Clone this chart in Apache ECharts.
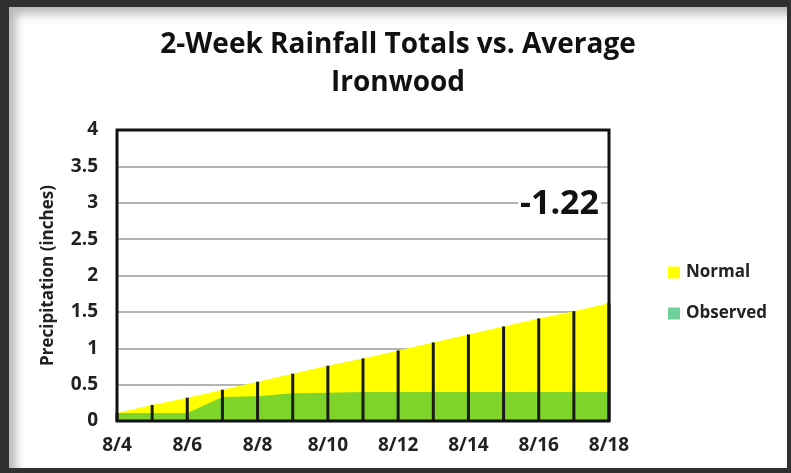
<!DOCTYPE html>
<html>
<head>
<meta charset="utf-8">
<script src="https://cdn.jsdelivr.net/npm/echarts@6/dist/echarts.min.js"></script>
<style>
  html, body { margin: 0; padding: 0; }
  body { width: 791px; height: 473px; background: #303030; position: relative; overflow: hidden; }
  #chart {
    position: absolute; left: 9px; top: 7px; width: 778px; height: 461px;
    background: #fff;
    box-shadow: inset 7px 7px 10px rgba(0,0,0,0.28);
  }
</style>
</head>
<body>
<div id="chart"></div>
<script>
  // days of the 2-week window
  const days = ['8/4','8/5','8/6','8/7','8/8','8/9','8/10','8/11','8/12','8/13','8/14','8/15','8/16','8/17','8/18'];
  // accumulated rainfall, inches
  const normal = [0.11, 0.22, 0.32, 0.43, 0.54, 0.65, 0.76, 0.86, 0.97, 1.08, 1.19, 1.30, 1.41, 1.51, 1.62];
  const observed = [0.11, 0.11, 0.11, 0.33, 0.34, 0.38, 0.39, 0.40, 0.40, 0.40, 0.40, 0.40, 0.40, 0.40, 0.40];
  const departure = '-1.22';

  const font = '"Open Sans", sans-serif';
  let myChart = echarts.init(document.getElementById('chart'));

  let option = {
    animation: false,
    textStyle: { fontFamily: font },
    title: {
      text: '2-Week Rainfall Totals vs. Average\nIronwood',
      left: 'center',
      top: 14,
      textStyle: { fontSize: 28, fontWeight: 'bold', color: '#111', lineHeight: 38, fontFamily: font }
    },
    grid: {  // plot box
      left: 108, right: 178, top: 123, bottom: 47,
      show: true, borderColor: '#111', borderWidth: 3, z: 5,
      backgroundColor: 'transparent'
    },
    legend: {
      orient: 'vertical',
      left: 659, top: 257,
      padding: 0,
      itemWidth: 12, itemHeight: 12, itemGap: 24,
      icon: 'rect',
      textStyle: { fontSize: 17, fontWeight: 'bold', color: '#222', fontFamily: font, padding: [0, 0, 0, 1] },
      data: [
        { name: 'Normal' },
        { name: 'Observed', itemStyle: { color: '#6fd19b' } }
      ]
    },
    xAxis: {
      type: 'category',
      data: days,
      boundaryGap: false,
      axisLine: { show: false },
      axisTick: { show: false },
      axisLabel: { interval: 1, margin: 15, fontSize: 19, fontWeight: 'bold', color: '#222', fontFamily: font }
    },
    yAxis: {
      type: 'value',
      min: 0, max: 4, interval: 0.5,
      name: 'Precipitation (inches)',
      nameLocation: 'middle',
      nameGap: 60,
      nameTextStyle: { fontSize: 17, fontWeight: 'bold', color: '#222', fontFamily: font },
      axisLine: { show: false },
      axisTick: { show: false },
      axisLabel: { margin: 19, fontSize: 19, fontWeight: 'bold', color: '#222', fontFamily: font },
      splitLine: { lineStyle: { color: '#b4b4b4', width: 2 } }
    },
    graphic: [{
      type: 'text',
      right: 186, top: 180,
      z: 10,
      style: {
        text: departure, fontSize: 34, fontWeight: 'bold', fill: '#111', fontFamily: font,
        backgroundColor: '#fff', padding: [0, 2, 0, 2]
      }
    }],
    series: [
      {
        name: 'Normal',
        type: 'line',
        data: normal,
        symbol: 'none',
        color: '#ffff00',
        lineStyle: { width: 0 },
        areaStyle: { color: '#ffff00', opacity: 1 },
        z: 1
      },
      {
        name: 'Observed',
        type: 'line',
        data: observed,
        symbol: 'none',
        color: '#7fd42a',
        lineStyle: { width: 0 },
        areaStyle: { color: '#7fd42a', opacity: 1 },
        z: 2
      },
      {
        name: 'drop',
        type: 'bar',
        data: normal,
        barWidth: 3,
        itemStyle: { color: '#1a1a1a' },
        z: 3
      }
    ]
  };
  myChart.setOption(option);
</script>
</body>
</html>
